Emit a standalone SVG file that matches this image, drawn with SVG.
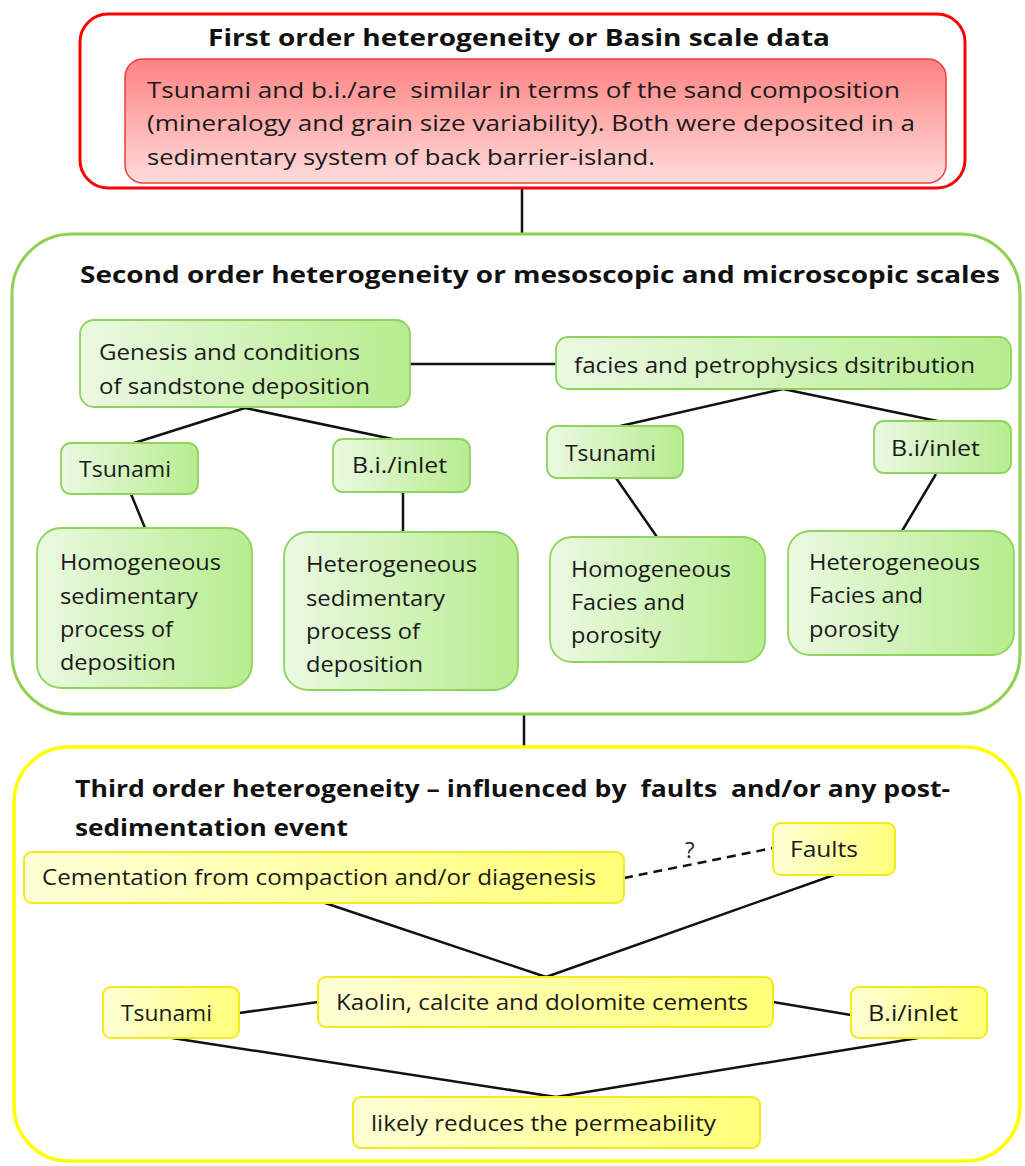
<svg xmlns="http://www.w3.org/2000/svg" width="1025" height="1166" viewBox="0 0 1025 1166">
<defs>
<linearGradient id="gRed" x1="0" y1="0" x2="0" y2="1"><stop offset="0" stop-color="#ff8282"/><stop offset="1" stop-color="#ffdcdc"/></linearGradient>
<linearGradient id="gGreen" x1="0" y1="0" x2="1" y2="0"><stop offset="0" stop-color="#ebf9e2"/><stop offset="1" stop-color="#b6ec8e"/></linearGradient>
<linearGradient id="gYellow" x1="0" y1="0" x2="1" y2="0"><stop offset="0" stop-color="#ffffd6"/><stop offset="1" stop-color="#ffff78"/></linearGradient>
<style>
.t{font-family:"Open Sans","Liberation Sans",sans-serif;font-size:22px;fill:#1a1a1a;white-space:pre}
.h{font-family:"Open Sans","Liberation Sans",sans-serif;font-size:23px;font-weight:bold;fill:#111;white-space:pre}
.red{fill:url(#gRed);stroke:#f03c3c;stroke-width:1.5}
.grn{fill:url(#gGreen);stroke:#8ed45c;stroke-width:1.8}
.yel{fill:url(#gYellow);stroke:#f2ea1a;stroke-width:2}
.c{stroke:#111;stroke-width:2.5;fill:none}
</style>
</defs>
<rect width="1025" height="1166" fill="#fff"/>

<g id="connectors">
<line class="c" x1="522" y1="188" x2="522" y2="235"/>
<line class="c" x1="410" y1="364" x2="556" y2="364"/>
<line class="c" x1="245" y1="408" x2="131" y2="444"/>
<line class="c" x1="245" y1="408" x2="402" y2="441"/>
<line class="c" x1="131" y1="494" x2="145" y2="528"/>
<line class="c" x1="403" y1="492" x2="403" y2="532"/>
<line class="c" x1="783" y1="389" x2="616" y2="427"/>
<line class="c" x1="783" y1="389" x2="942" y2="422"/>
<line class="c" x1="616" y1="478" x2="657" y2="537"/>
<line class="c" x1="936" y1="474" x2="902" y2="531"/>
<line class="c" x1="524" y1="714" x2="524" y2="748"/>
<line class="c" x1="624" y1="878" x2="773" y2="848" stroke-dasharray="9,6"/>
<line class="c" x1="325" y1="903" x2="546" y2="977"/>
<line class="c" x1="834" y1="875" x2="546" y2="977"/>
<line class="c" x1="239" y1="1013" x2="318" y2="1002"/>
<line class="c" x1="773" y1="1002" x2="851" y2="1015"/>
<line class="c" x1="172" y1="1038" x2="556" y2="1097"/>
<line class="c" x1="918" y1="1038" x2="556" y2="1097"/>
<text class="t" x="685" y="858">?</text>
</g>

<g id="first-order">
<rect x="80" y="14" width="885" height="174" rx="28" fill="none" stroke="#f00" stroke-width="3"/>
<text class="h" x="208" y="46" textLength="622" lengthAdjust="spacingAndGlyphs">First order heterogeneity or Basin scale data</text>
</g>
<g id="first-order-text">
<rect class="red" x="125" y="59" width="821" height="124" rx="18"/>
<text class="t" x="147" y="98" textLength="753" lengthAdjust="spacingAndGlyphs">Tsunami and b.i./are  similar in terms of the sand composition</text>
<text class="t" x="147" y="131" textLength="768" lengthAdjust="spacingAndGlyphs">(mineralogy and grain size variability). Both were deposited in a</text>
<text class="t" x="147" y="165" textLength="508" lengthAdjust="spacingAndGlyphs">sedimentary system of back barrier-island.</text>
</g>

<g id="second-order">
<rect x="12" y="234" width="1008" height="480" rx="60" fill="none" stroke="#92d050" stroke-width="3"/>
<text class="h" x="80" y="283" textLength="920" lengthAdjust="spacingAndGlyphs">Second order heterogeneity or mesoscopic and microscopic scales</text>
</g>
<g id="genesis">
<rect class="grn" x="80" y="320" width="330" height="87" rx="14"/>
<text class="t" x="99" y="360" textLength="261" lengthAdjust="spacingAndGlyphs">Genesis and conditions</text>
<text class="t" x="99" y="394" textLength="271" lengthAdjust="spacingAndGlyphs">of sandstone deposition</text>
</g>
<g id="facies">
<rect class="grn" x="556" y="337" width="455" height="52" rx="12"/>
<text class="t" x="574" y="373" textLength="401" lengthAdjust="spacingAndGlyphs">facies and petrophysics dsitribution</text>
</g>
<g id="tsunami-2a">
<rect class="grn" x="61" y="443" width="137" height="51" rx="10"/>
<text class="t" x="79" y="477" textLength="92" lengthAdjust="spacingAndGlyphs">Tsunami</text>
</g>
<g id="bi-2a">
<rect class="grn" x="333" y="439" width="137" height="53" rx="10"/>
<text class="t" x="352" y="473" textLength="95" lengthAdjust="spacingAndGlyphs">B.i./inlet</text>
</g>
<g id="homog-sed">
<rect class="grn" x="37" y="528" width="215" height="160" rx="24"/>
<text class="t" x="60" y="570" textLength="161" lengthAdjust="spacingAndGlyphs">Homogeneous</text>
<text class="t" x="60" y="604" textLength="138" lengthAdjust="spacingAndGlyphs">sedimentary</text>
<text class="t" x="60" y="637" textLength="113" lengthAdjust="spacingAndGlyphs">process of</text>
<text class="t" x="60" y="670" textLength="116" lengthAdjust="spacingAndGlyphs">deposition</text>
</g>
<g id="heterog-sed">
<rect class="grn" x="284" y="532" width="234" height="158" rx="24"/>
<text class="t" x="306" y="572" textLength="171" lengthAdjust="spacingAndGlyphs">Heterogeneous</text>
<text class="t" x="306" y="606" textLength="139" lengthAdjust="spacingAndGlyphs">sedimentary</text>
<text class="t" x="306" y="639" textLength="114" lengthAdjust="spacingAndGlyphs">process of</text>
<text class="t" x="306" y="672" textLength="117" lengthAdjust="spacingAndGlyphs">deposition</text>
</g>
<g id="tsunami-2b">
<rect class="grn" x="547" y="426" width="136" height="52" rx="10"/>
<text class="t" x="565" y="461" textLength="91" lengthAdjust="spacingAndGlyphs">Tsunami</text>
</g>
<g id="bi-2b">
<rect class="grn" x="874" y="421" width="137" height="52" rx="10"/>
<text class="t" x="891" y="456" textLength="89" lengthAdjust="spacingAndGlyphs">B.i/inlet</text>
</g>
<g id="homog-facies">
<rect class="grn" x="550" y="537" width="215" height="125" rx="22"/>
<text class="t" x="571" y="577" textLength="160" lengthAdjust="spacingAndGlyphs">Homogeneous</text>
<text class="t" x="571" y="610" textLength="114" lengthAdjust="spacingAndGlyphs">Facies and</text>
<text class="t" x="571" y="643" textLength="90" lengthAdjust="spacingAndGlyphs">porosity</text>
</g>
<g id="heterog-facies">
<rect class="grn" x="788" y="531" width="226" height="124" rx="22"/>
<text class="t" x="809" y="570" textLength="171" lengthAdjust="spacingAndGlyphs">Heterogeneous</text>
<text class="t" x="809" y="603" textLength="114" lengthAdjust="spacingAndGlyphs">Facies and</text>
<text class="t" x="809" y="637" textLength="90" lengthAdjust="spacingAndGlyphs">porosity</text>
</g>

<g id="third-order">
<rect x="14" y="747" width="1006" height="414" rx="55" fill="none" stroke="#ffff00" stroke-width="3.5"/>
<text class="h" x="75" y="797" textLength="875" lengthAdjust="spacingAndGlyphs">Third order heterogeneity – influenced by  faults  and/or any post-</text>
<text class="h" x="75" y="836" textLength="273" lengthAdjust="spacingAndGlyphs">sedimentation event</text>
</g>
<g id="cementation">
<rect class="yel" x="24" y="852" width="600" height="51" rx="8"/>
<text class="t" x="42" y="885" textLength="554" lengthAdjust="spacingAndGlyphs">Cementation from compaction and/or diagenesis</text>
</g>
<g id="faults">
<rect class="yel" x="773" y="823" width="122" height="52" rx="8"/>
<text class="t" x="790" y="857" textLength="68" lengthAdjust="spacingAndGlyphs">Faults</text>
</g>
<g id="kaolin">
<rect class="yel" x="318" y="977" width="455" height="50" rx="8"/>
<text class="t" x="336" y="1010" textLength="412" lengthAdjust="spacingAndGlyphs">Kaolin, calcite and dolomite cements</text>
</g>
<g id="tsunami-3">
<rect class="yel" x="103" y="987" width="136" height="51" rx="8"/>
<text class="t" x="121" y="1021" textLength="91" lengthAdjust="spacingAndGlyphs">Tsunami</text>
</g>
<g id="bi-3">
<rect class="yel" x="851" y="987" width="136" height="51" rx="8"/>
<text class="t" x="868" y="1021" textLength="90" lengthAdjust="spacingAndGlyphs">B.i/inlet</text>
</g>
<g id="permeability">
<rect class="yel" x="353" y="1097" width="407" height="51" rx="8"/>
<text class="t" x="371" y="1131" textLength="345" lengthAdjust="spacingAndGlyphs">likely reduces the permeability</text>
</g>
</svg>
